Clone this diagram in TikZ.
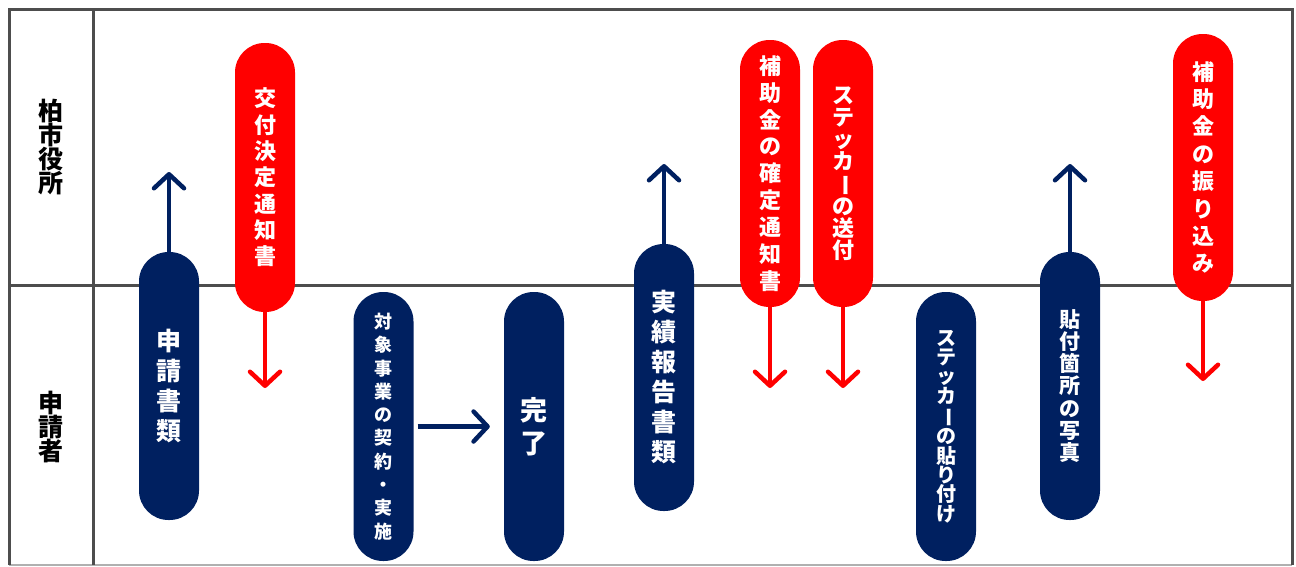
\documentclass[tikz,border=0pt]{standalone}
\usepackage{fontspec}
\newfontfamily\jp{Noto Sans CJK JP}
\usetikzlibrary{arrows.meta}
\definecolor{navy}{RGB}{0,32,96}
\definecolor{myred}{RGB}{255,0,0}
\definecolor{framegray}{RGB}{77,77,77}
\definecolor{lightgray2}{RGB}{176,176,176}
\newcommand\tatebou{\rotatebox[origin=c]{-90}{ー}}
\begin{document}
\begin{tikzpicture}[x=1pt,y=-1pt,
  fs/.style 2 args={font=\jp\bfseries\fontsize{#1}{#2}\selectfont},
  pill/.style={rectangle, rounded corners=29.5pt, minimum width=60pt,
    minimum height=268pt, inner sep=0pt, text=white, align=center},
  navypill/.style={pill, fill=navy},
  redpill/.style={pill, fill=myred},
  flow/.style={line width=4.5pt, -{Straight Barb[length=14pt,width=30pt,round]}},
  navyflow/.style={flow, draw=navy},
  redflow/.style={flow, draw=myred},
  rowlabel/.style={align=center, text=black, inner sep=0pt},
  gridline/.style={draw=framegray, line width=3pt}
]
\useasboundingbox (0,0) rectangle (1296,566);
\fill[white] (0,0) rectangle (1296,566);

% frame
\draw[draw=lightgray2, line width=2pt] (9,565) -- (1292,565);
\draw[gridline] (9,565) -- (9,9) -- (1292,9) -- (1292,565);
\draw[gridline] (93,9) -- (93,565);
\draw[gridline] (9,285) -- (1292,285);

% row labels
\node[rowlabel, fs={25}{24}] (city) at (51,147) {柏\\市\\役\\所};
\node[rowlabel, fs={25}{24}] (appl) at (51,427) {申\\請\\者};

% free ends of arrows
\coordinate (e1) at (169,172);
\coordinate (e2) at (265,388);
\coordinate (e5) at (664,164);
\coordinate (e6) at (770,388);
\coordinate (e7) at (843,388);
\coordinate (e9) at (1070,164);
\coordinate (e10) at (1203,381);

% pills
\node[navypill, fs={25}{30}] (p1) at (169,386) {申\\請\\書\\類};
\node[redpill, fs={22}{26.3}, minimum height=269pt] (p2) at (265,177.5) {交\\付\\決\\定\\通\\知\\書};
\node[navypill, fs={18}{23.3}, minimum height=269pt] (p3) at (383.5,426.5) {対\\象\\事\\業\\の\\契\\約\\・\\実\\施};
\node[navypill, fs={27}{33}, minimum height=269pt] (p4) at (534,426.5) {完\\了};
\node[navypill, fs={25}{30}, minimum height=267pt] (p5) at (664,377.5) {実\\績\\報\\告\\書\\類};
\node[redpill, fs={22}{26.9}, minimum height=267pt] (p6) at (770,173.5) {補\\助\\金\\の\\確\\定\\通\\知\\書};
\node[redpill, fs={22}{22}, minimum height=267pt] (p7) at (843,173.5) {ス\\テ\\ッ\\カ\\\tatebou\\の\\送\\付};
\node[navypill, fs={20}{19.3}, minimum height=269pt] (p8) at (946,426.5) {ス\\テ\\ッ\\カ\\\tatebou\\の\\貼\\り\\付\\け};
\node[navypill, fs={21}{22.2}] (p9) at (1070,386) {貼\\付\\箇\\所\\の\\写\\真};
\node[redpill, fs={22}{27.4}, minimum height=267pt] (p10) at (1203,167.5) {補\\助\\金\\の\\振\\り\\込\\み};

% arrows
\draw[navyflow] (p1.north) -- (e1);
\draw[redflow] (p2.south) -- (e2);
\draw[navyflow] ([xshift=4pt]p3.east) -- ([xshift=-14pt]p4.west);
\draw[navyflow] (p5.north) -- (e5);
\draw[redflow] (p6.south) -- (e6);
\draw[redflow] (p7.south) -- (e7);
\draw[navyflow] (p9.north) -- (e9);
\draw[redflow] (p10.south) -- (e10);
\end{tikzpicture}
\end{document}
